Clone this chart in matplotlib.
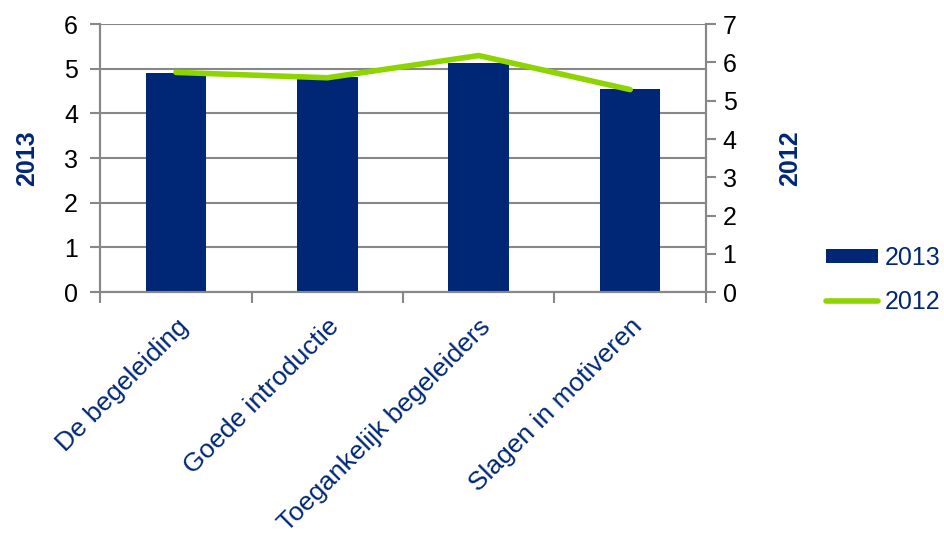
import matplotlib.pyplot as plt
import numpy as np

plt.rcParams['font.family'] = ['Liberation Sans', 'DejaVu Sans']

categories = ['De begeleiding', 'Goede introductie', 'Toegankelijk begeleiders', 'Slagen in motiveren']
values_2013 = [4.91, 4.81, 5.12, 4.55]
values_2012 = [5.74, 5.60, 6.18, 5.29]

navy = '#002776'
green = '#8ED400'
grey = '#878787'

fig = plt.figure(figsize=(9.45, 5.37), dpi=100)
ax = fig.add_axes([0.106, 0.456, 0.641, 0.499])
ax2 = ax.twinx()

x = np.arange(len(categories))
bars = ax.bar(x, values_2013, width=0.4, color=navy, label='2013', zorder=3)
line, = ax2.plot(x, values_2012, color=green, lw=4, solid_capstyle='round', label='2012', zorder=4)

ax.set_xlim(-0.5, len(categories) - 0.5)
ax.set_ylim(0, 6)
ax2.set_ylim(0, 7)
ax.set_yticks(range(0, 7))
ax2.set_yticks(range(0, 8))

# gridlines follow the left axis
ax.yaxis.grid(True, color=grey, lw=1.5, zorder=0)
ax.set_axisbelow(True)

for a in (ax, ax2):
    for s in a.spines.values():
        s.set_color(grey)
        s.set_linewidth(1.5)
    a.spines['top'].set_visible(False)
    a.tick_params(axis='y', colors=grey, labelcolor='black', labelsize=18, length=7, width=1.5)
ax.tick_params(axis='y', pad=9)
ax2.tick_params(axis='y', pad=5)

# x ticks between categories, labels at centres
ax.set_xticks(np.arange(-0.5, len(categories)), minor=False)
ax.set_xticklabels([])
ax.tick_params(axis='x', colors=grey, length=8, width=1.5)
ax.set_xticks(x, minor=True)
ax.set_xticklabels(categories, minor=True, rotation=45, ha='right', rotation_mode='anchor',
                   color=navy, fontsize=19)
ax.tick_params(axis='x', which='minor', length=0, pad=16)

ax.set_ylabel('2013', color=navy, fontsize=18, fontweight='bold', labelpad=18)
ax2.set_ylabel('2012', color=navy, fontsize=18, fontweight='bold', labelpad=30)

fig.legend([bars, line], ['2013', '2012'], loc='center left', bbox_to_anchor=(0.874, 0.4795),
           frameon=False, fontsize=18, labelcolor=navy, handlelength=2.1, handleheight=0.5,
           labelspacing=0.8, handletextpad=0.25, borderpad=0, borderaxespad=0)

fig.savefig('out.png', dpi=100)
